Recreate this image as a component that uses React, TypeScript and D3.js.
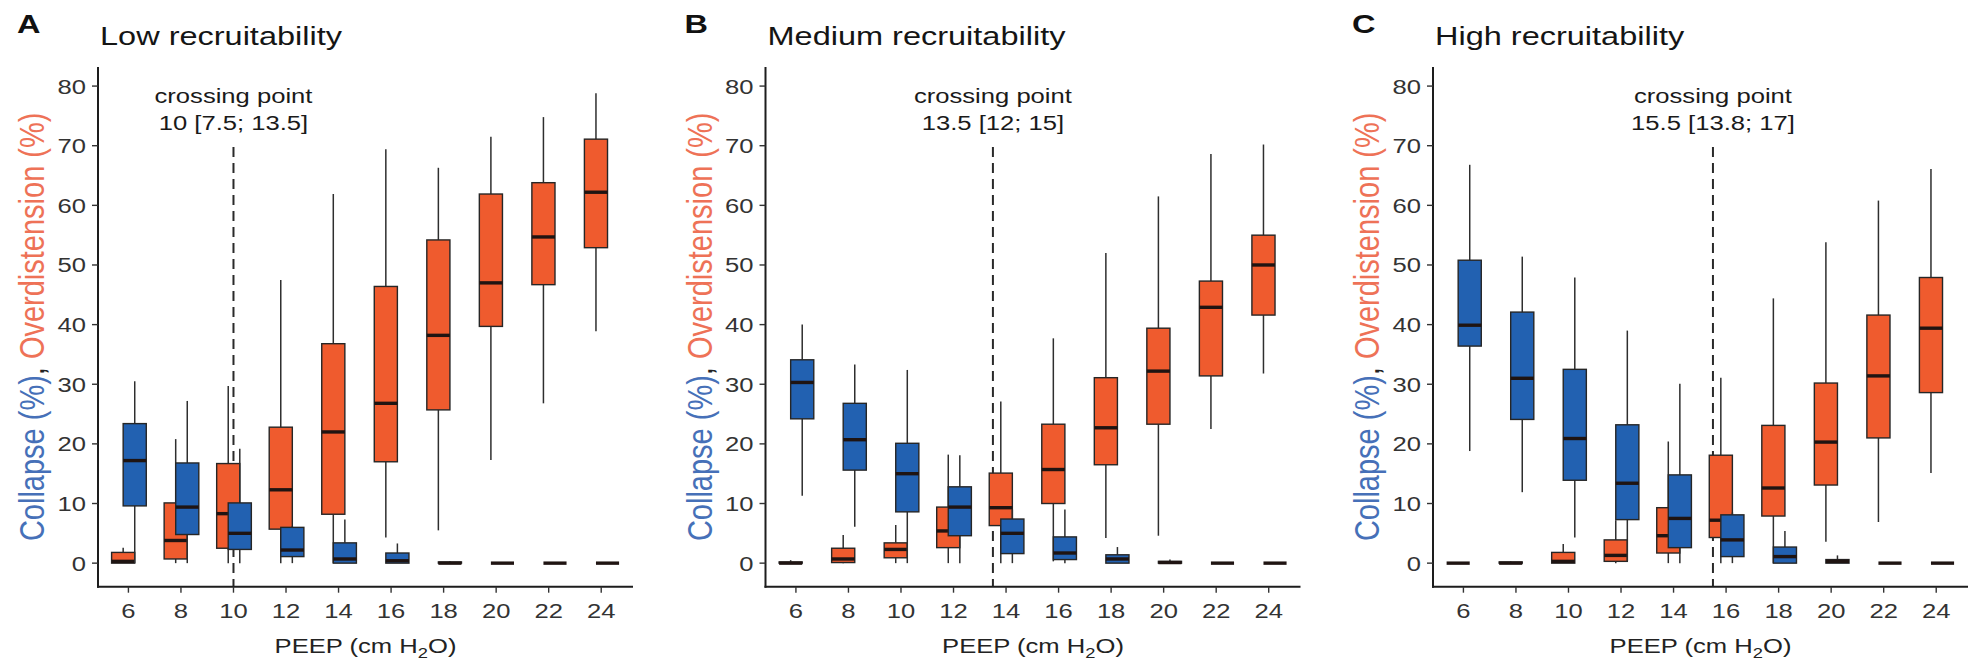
import React from 'react';
import * as d3 from 'd3';

// PEEP steps (cm H2O) shared by all three panels
const peep = [6, 8, 10, 12, 14, 16, 18, 20, 22, 24];
const yTicks = [0, 10, 20, 30, 40, 50, 60, 70, 80];

const panelLetters = ['A', 'B', 'C'];
const panelTitles = ['Low recruitability', 'Medium recruitability', 'High recruitability'];
const crossingPoints = [10, 13.5, 15.5];
const crossingLabels = ['10 [7.5; 13.5]', '13.5 [12; 15]', '15.5 [13.8; 17]'];

// Box statistics per PEEP step: [lower whisker, Q1, median, Q3, upper whisker]
const lowOverdistension = [
  [0, 0, 0.3, 1.8, 2.6],
  [0, 0.7, 3.8, 10.1, 20.8],
  [0, 2.5, 8.3, 16.7, 29.7],
  [0, 5.7, 12.3, 22.8, 47.5],
  [0, 8.2, 22.0, 36.8, 61.9],
  [4.3, 17.0, 26.8, 46.4, 69.4],
  [5.5, 25.7, 38.2, 54.2, 66.3],
  [17.3, 39.7, 47.0, 61.9, 71.5],
  [26.8, 46.7, 54.7, 63.8, 74.8],
  [38.9, 52.9, 62.2, 71.1, 78.8],
];
const lowCollapse = [
  [0, 9.6, 17.2, 23.4, 30.5],
  [0, 4.8, 9.4, 16.8, 27.2],
  [0, 2.3, 5.0, 10.1, 19.2],
  [0, 1.1, 2.2, 6.0, 6.2],
  [0, 0, 0.7, 3.4, 7.3],
  [0, 0, 0.4, 1.7, 3.3],
  [0, 0, 0, 0.2, 0.3],
  [0, 0, 0, 0, 0],
  [0, 0, 0, 0, 0],
  [0, 0, 0, 0, 0],
];
const mediumOverdistension = [
  [0, 0, 0, 0.2, 0.5],
  [0, 0.1, 0.7, 2.5, 4.7],
  [0, 0.9, 2.3, 3.4, 6.4],
  [0, 2.6, 5.4, 9.4, 18.2],
  [0, 6.3, 9.3, 15.1, 27.1],
  [0.3, 10.0, 15.7, 23.3, 37.7],
  [4.2, 16.5, 22.7, 31.1, 52.0],
  [4.6, 23.3, 32.2, 39.4, 61.5],
  [22.5, 31.4, 42.9, 47.3, 68.6],
  [31.8, 41.6, 50.0, 55.0, 70.2],
];
const mediumCollapse = [
  [11.3, 24.2, 30.3, 34.1, 40.0],
  [6.1, 15.6, 20.7, 26.8, 33.3],
  [0, 8.6, 15.0, 20.1, 32.4],
  [0, 4.6, 9.4, 12.8, 18.1],
  [0, 1.6, 5.0, 7.4, 9.0],
  [0, 0.6, 1.7, 4.4, 9.0],
  [0, 0, 0.7, 1.4, 2.7],
  [0, 0, 0.1, 0.3, 0.6],
  [0, 0, 0, 0, 0],
  [0, 0, 0, 0, 0],
];
const highOverdistension = [
  [0, 0, 0, 0, 0],
  [0, 0, 0, 0.2, 0.3],
  [0, 0, 0.3, 1.8, 3.2],
  [0, 0.3, 1.3, 3.9, 7.2],
  [0, 1.7, 4.6, 9.3, 20.4],
  [0, 4.3, 7.2, 18.1, 31.1],
  [0, 7.9, 12.6, 23.1, 44.4],
  [3.6, 13.1, 20.3, 30.2, 53.8],
  [6.9, 21.0, 31.4, 41.6, 60.8],
  [15.1, 28.6, 39.4, 47.9, 66.1],
];
const highCollapse = [
  [18.8, 36.4, 39.9, 50.8, 66.8],
  [11.9, 24.1, 31.0, 42.1, 51.4],
  [4.3, 13.9, 20.9, 32.5, 47.9],
  [0.3, 7.3, 13.4, 23.2, 39.0],
  [0, 2.6, 7.5, 14.8, 30.1],
  [0, 1.1, 3.9, 8.1, 8.5],
  [0, 0, 1.1, 2.7, 5.4],
  [0, 0, 0.3, 0.6, 1.3],
  [0, 0, 0, 0, 0],
  [0, 0, 0, 0, 0],
];

const overdistensionByPanel = [lowOverdistension, mediumOverdistension, highOverdistension];
const collapseByPanel = [lowCollapse, mediumCollapse, highCollapse];

const W = 1969;
const H = 664;
const FONT = "'Liberation Sans', Arial, Helvetica, sans-serif";
const ORANGE = '#EF5B2E';
const BLUE = '#2261B1';
const ORANGE_TEXT = '#EE7257';
const BLUE_TEXT = '#4670B8';
const INK = '#1d1d1d';

const panelLeft0 = 98;
const panelStride = 667.5;
const panelWidth = 535;
const yTop = 67;
const yBottom = 586.7;
const textStretch = 1.22;

const y = d3.scaleLinear().domain([-3.95, 83.2]).range([yBottom, yTop]);

function BoxSeries({ x, stats, offset, fill }) {
  const half = 0.44;
  return (
    <g>
      {peep.map((p, i) => {
        const [lo, q1, med, q3, hi] = stats[i];
        const cx = x(p + offset);
        const x0 = x(p + offset - half);
        const x1 = x(p + offset + half);
        return (
          <g key={p}>
            <line x1={cx} x2={cx} y1={y(q3)} y2={y(hi)} stroke="#2e2e2e" strokeWidth={1.5} />
            <line x1={cx} x2={cx} y1={y(q1)} y2={y(lo)} stroke="#2e2e2e" strokeWidth={1.5} />
            <rect
              x={x0}
              y={y(q3)}
              width={x1 - x0}
              height={Math.max(0, y(q1) - y(q3))}
              fill={fill}
              stroke="#262626"
              strokeWidth={1.4}
            />
            <line x1={x0} x2={x1} y1={y(med)} y2={y(med)} stroke="#1f1412" strokeWidth={3.4} />
          </g>
        );
      })}
    </g>
  );
}

function Panel({ index }) {
  const left = panelLeft0 + index * panelStride;
  const right = left + panelWidth;
  const x = d3.scaleLinear().domain([4.842, 25.21]).range([left, right]);
  const cp = crossingPoints[index];
  const midY = (yTop + yBottom) / 2;
  const midX = (left + right) / 2;
  return (
    <g fontFamily={FONT}>
      <text
        transform={`translate(${left - 81},33) scale(1.3,1)`}
        fontSize={25}
        fontWeight="bold"
        fill="#111"
      >
        {panelLetters[index]}
      </text>
      <text transform={`translate(${left + 2},45) scale(1.3,1)`} fontSize={25} fill="#151515">
        {panelTitles[index]}
      </text>

      {/* y axis label, coloured by series */}
      <text
        transform={`translate(${left - 54},${midY}) scale(${textStretch},1) rotate(-90)`}
        textAnchor="middle"
        fontSize={29}
      >
        <tspan fill={BLUE_TEXT}>Collapse (%)</tspan>
        <tspan fill="#222">, </tspan>
        <tspan fill={ORANGE_TEXT}>Overdistension (%)</tspan>
      </text>

      {/* crossing point */}
      <line x1={x(cp)} x2={x(cp)} y1={147} y2={yBottom} stroke="#2a2a2a" strokeWidth={2} strokeDasharray="10,6" />
      <text transform={`translate(${x(cp)},103) scale(${textStretch},1)`} textAnchor="middle" fontSize={21} fill="#1a1a1a">
        crossing point
      </text>
      <text transform={`translate(${x(cp)},130) scale(${textStretch},1)`} textAnchor="middle" fontSize={21} fill="#1a1a1a">
        {crossingLabels[index]}
      </text>

      <BoxSeries x={x} stats={overdistensionByPanel[index]} offset={-0.2} fill={ORANGE} />
      <BoxSeries x={x} stats={collapseByPanel[index]} offset={0.24} fill={BLUE} />

      {/* axes */}
      <line x1={left} x2={left} y1={yTop} y2={yBottom + 1} stroke={INK} strokeWidth={2} />
      <line x1={left - 1} x2={right} y1={yBottom} y2={yBottom} stroke={INK} strokeWidth={2} />
      {yTicks.map((t) => (
        <g key={t}>
          <line x1={left - 6} x2={left} y1={y(t)} y2={y(t)} stroke="#333" strokeWidth={1.4} />
          <text
            transform={`translate(${left - 12},${y(t) + 7.5}) scale(${textStretch},1)`}
            textAnchor="end"
            fontSize={21}
            fill="#333"
          >
            {t}
          </text>
        </g>
      ))}
      {peep.map((p) => (
        <g key={p}>
          <line x1={x(p)} x2={x(p)} y1={yBottom} y2={yBottom + 6} stroke="#333" strokeWidth={1.4} />
          <text transform={`translate(${x(p)},618) scale(${textStretch},1)`} textAnchor="middle" fontSize={21} fill="#333">
            {p}
          </text>
        </g>
      ))}
      <text transform={`translate(${midX},653) scale(${textStretch},1)`} textAnchor="middle" fontSize={21} fill="#222">
        PEEP (cm H
        <tspan dy={5} fontSize={15}>2</tspan>
        <tspan dy={-5}>O)</tspan>
      </text>
    </g>
  );
}

export default function App() {
  return (
    <svg
      width={W}
      height={H}
      viewBox={`0 0 ${W} ${H}`}
      style={{ position: 'absolute', left: 0, top: 0, background: '#fff' }}
    >
      <rect width={W} height={H} fill="#fff" />
      {[0, 1, 2].map((i) => (
        <Panel key={i} index={i} />
      ))}
    </svg>
  );
}
